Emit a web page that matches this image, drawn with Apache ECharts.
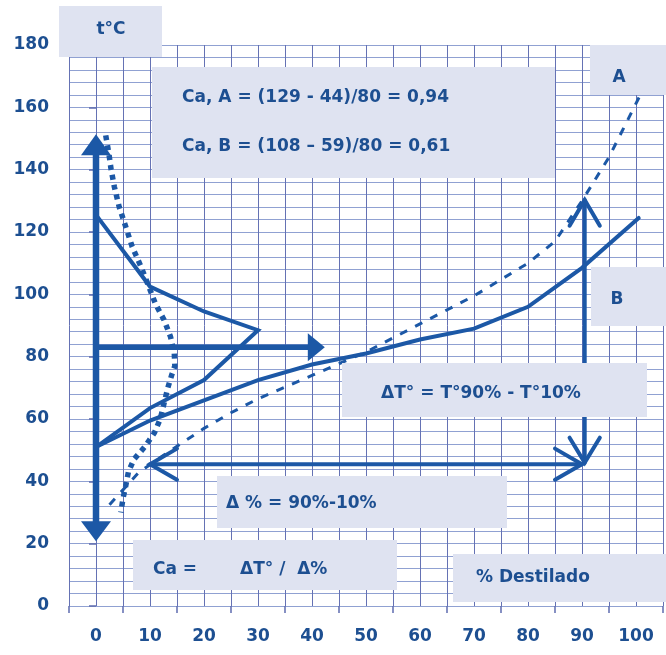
<!DOCTYPE html>
<html>
<head>
<meta charset="utf-8">
<style>
  html, body {margin:0;padding:0;background:#ffffff;}
  #chart {width:666px;height:655px;}
</style>
</head>
<body>
<div id="chart"></div>
<script src="https://cdn.jsdelivr.net/npm/echarts@6/dist/echarts.min.js"></script>
<script>
    // ejes
    var xLabels = [0, 10, 20, 30, 40, 50, 60, 70, 80, 90, 100];
    var yLabels = [0, 20, 40, 60, 80, 100, 120, 140, 160, 180];

    // curva de destilacion B (continua) y A (discontinua): [% destilado, t]
    var curveB = [[0, 51], [10, 59.5], [20, 66], [30, 72.5], [40, 77.5], [50, 81], [60, 85.5], [70, 89], [80, 96], [90, 108.5], [100.5, 124.5]];
    var curveA = [[2.5, 32.5], [8, 43], [13.5, 49.5], [20, 57], [25, 62], [30, 66.5], [40, 74], [50, 81.5], [60, 90.5], [70, 99.5], [80, 110], [85, 117], [90, 130], [95, 144], [100.8, 164]];

    // distribucion (curvas de la izquierda)
    var distB = [[0, 125.5], [10, 102.5], [20, 94.5], [30, 88.5], [20, 72.5], [10, 63.5], [0, 51]];
    var distA = [[1.8, 151], [2.4, 145], [2.8, 140], [3.4, 134.5], [4.3, 128], [5.5, 121.7], [6.7, 115.3], [8.3, 109], [9.8, 102.4], [11, 97], [12.6, 91.8], [13.8, 86.4], [14.5, 81], [14.6, 77], [14, 74], [13.3, 70], [12.6, 65], [11.9, 60], [10.8, 55.5], [9, 51], [7, 47], [6, 43], [5.5, 38.5], [5, 34.5], [4.6, 30]];

    // flechas
    var tAxisArrow = [[0, 148], [0, 24]];
    var meanArrow = [[0, 83], [40.8, 83]];
    var spanArrow = [[10, 45.5], [90, 45.5]];
    var spanHeadL = [[15, 50.5], [10, 45.5], [15, 40.5]];
    var spanHeadR = [[85, 50.5], [90, 45.5], [85, 40.5]];
    var tempArrow = [[90.5, 46], [90.5, 130.3]];
    var tempHeadT = [[87.7, 122], [90.5, 130.3], [93.3, 122]];
    var tempHeadB = [[87.7, 54], [90.5, 46], [93.3, 54]];

    var blue = '#1c58a6';
    var textBlue = '#1d4f91';
    var boxFill = '#dfe3f1';
    var font = '"DejaVu Sans", "Open Sans", sans-serif';

    function plain(data, width, type) {
        return {
            type: 'line', data: data, symbol: 'none', silent: true, animation: false,
            lineStyle: {color: blue, width: width, type: type || 'solid', cap: type && type !== 'solid' ? 'butt' : 'round', join: 'miter'},
            z: 3
        };
    }

    var chart = echarts.init(document.getElementById('chart'));

    var notes = [
        {x: 59, y: 6, w: 103, h: 51},
        {x: 152, y: 67, w: 403, h: 111},
        {x: 590, y: 45, w: 76, h: 50},
        {x: 591, y: 267, w: 75, h: 59},
        {x: 342, y: 363, w: 305, h: 54},
        {x: 217, y: 476, w: 290, h: 52},
        {x: 133, y: 540, w: 264, h: 50},
        {x: 453, y: 554, w: 213, h: 48}
    ];
    var texts = [
        {t: 't°C', x: 111, y: 30, a: 'center'},
        {t: 'Ca, A = (129 - 44)/80 = 0,94', x: 182, y: 98, a: 'left'},
        {t: 'Ca, B = (108 – 59)/80 = 0,61', x: 182, y: 147, a: 'left'},
        {t: 'A', x: 619, y: 78, a: 'center'},
        {t: 'B', x: 617, y: 300, a: 'center'},
        {t: 'ΔT° = T°90% - T°10%', x: 481, y: 394, a: 'center'},
        {t: 'Δ % = 90%-10%', x: 226, y: 504, a: 'left'},
        {t: 'Ca =', x: 153, y: 570, a: 'left'},
        {t: 'ΔT° /  Δ%', x: 240, y: 570, a: 'left'},
        {t: '% Destilado', x: 476, y: 578, a: 'left'}
    ];

    var graphics = [];
    notes.forEach(function (n) {
        graphics.push({type: 'rect', shape: {x: n.x, y: n.y, width: n.w, height: n.h}, style: {fill: boxFill}, z: 50});
    });
    texts.forEach(function (t) {
        graphics.push({
            type: 'text', x: t.x, y: t.y, z: 51,
            style: {text: t.t, fill: textBlue, font: 'bold 17px ' + font, textAlign: t.a, textVerticalAlign: 'middle'}
        });
    });

    var option = {
        animation: false,
        backgroundColor: '#ffffff',
        grid: {left: 69, right: -1, top: 45, bottom: 49},
        xAxis: [{
            type: 'value', min: -5, max: 105, interval: 5,
            axisLine: {show: false}, axisTick: {show: false},
            splitLine: {show: true, lineStyle: {color: '#6572b4', width: 1}},
            axisLabel: {
                color: textBlue, fontSize: 17, fontWeight: 'bold', fontFamily: font, margin: 22,
                formatter: function (v) { return xLabels.indexOf(v) >= 0 ? String(v) : ''; }
            }
        }, {
            type: 'value', min: -5, max: 105, interval: 10, position: 'bottom',
            axisLine: {show: false}, splitLine: {show: false}, axisLabel: {show: false},
            axisTick: {show: true, length: 7, lineStyle: {color: '#5f6cb0', width: 1.5}}
        }],
        yAxis: [{
            type: 'value', min: 0, max: 180, interval: 4,
            axisLine: {show: false}, axisTick: {show: false},
            splitLine: {show: true, lineStyle: {color: '#90a1d2', width: 1.1}},
            axisLabel: {
                color: textBlue, fontSize: 17, fontWeight: 'bold', fontFamily: font, margin: 20,
                formatter: function (v) { return yLabels.indexOf(v) >= 0 ? String(v) : ''; }
            }
        }, {
            type: 'value', min: 0, max: 180, interval: 20, position: 'left',
            axisLine: {show: false}, splitLine: {show: false}, axisLabel: {show: false},
            axisTick: {show: true, length: 7, lineStyle: {color: '#5f6cb0', width: 1.5}}
        }],
        series: [
            plain(curveB, 4),
            plain(distB, 4),
            plain(curveA, 3, [8, 9]),
            plain(distA, 5.5, [5, 5]),
            {
                type: 'line', silent: true, animation: false, z: 4,
                data: [
                    {value: tAxisArrow[0], symbol: 'triangle', symbolSize: [30, 21]},
                    {value: tAxisArrow[1], symbol: 'triangle', symbolSize: [30, 20], symbolRotate: 180}
                ],
                showSymbol: true, symbol: 'none',
                itemStyle: {color: blue},
                lineStyle: {color: blue, width: 6.5}
            },
            {
                type: 'line', silent: true, animation: false, z: 4,
                data: [
                    {value: meanArrow[0], symbol: 'none'},
                    {value: meanArrow[1], symbol: 'triangle', symbolSize: [28, 17], symbolRotate: -90}
                ],
                showSymbol: true, symbol: 'none',
                itemStyle: {color: blue},
                lineStyle: {color: blue, width: 5.5}
            },
            plain(spanArrow, 4),
            plain(spanHeadL, 4),
            plain(spanHeadR, 4),
            plain(tempArrow, 4),
            plain(tempHeadT, 4),
            plain(tempHeadB, 4)
        ],
        graphic: graphics
    };
    chart.setOption(option);
</script>
</body>
</html>
